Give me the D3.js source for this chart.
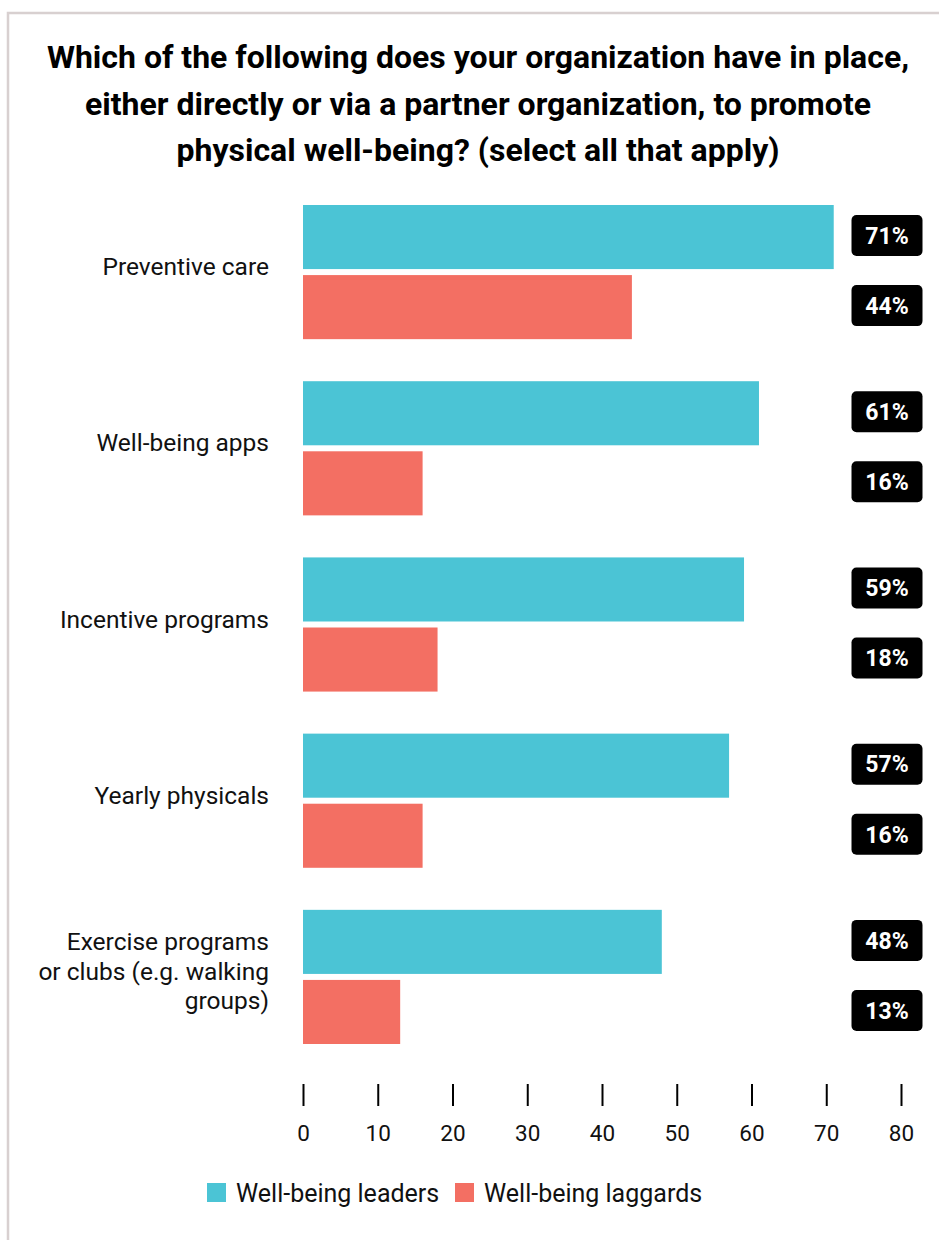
<!DOCTYPE html>
<html>
<head>
<meta charset="utf-8">
<script src="https://cdn.jsdelivr.net/npm/d3@7"></script>
<style>
  html, body { margin: 0; padding: 0; background: #fff; }
  svg { display: block; font-family: Roboto, "Noto Sans", sans-serif; }
</style>
</head>
<body>
<svg id="chart" width="939" height="1240"></svg>
<script>
// Survey answers: share of organizations (%) with each physical well-being measure
const categories = [
  ["Preventive care"],
  ["Well-being apps"],
  ["Incentive programs"],
  ["Yearly physicals"],
  ["Exercise programs", "or clubs (e.g. walking", "groups)"]
];
const seriesNames = ["Well-being leaders", "Well-being laggards"];
const leaders  = [71, 61, 59, 57, 48];
const laggards = [44, 16, 18, 16, 13];
const xTicks = [0, 10, 20, 30, 40, 50, 60, 70, 80];
const colors = ["#4bc4d5", "#f36f63"];

const titleLines = [
  "Which of the following does your organization have in place,",
  "either directly or via a partner organization, to promote",
  "physical well-being? (select all that apply)"
];

const svg = d3.select("#chart");

// Card frame (top and left edges)
svg.append("path")
  .attr("d", "M8,1240 V13 H939")
  .attr("fill", "none")
  .attr("stroke", "#d8d0d0")
  .attr("stroke-width", 2.5);

// Title
svg.append("text")
  .attr("text-anchor", "middle")
  .attr("font-weight", 700)
  .attr("font-size", 32)
  .attr("fill", "#000")
  .selectAll("tspan")
  .data(titleLines)
  .join("tspan")
  .attr("x", 478)
  .attr("y", (d, i) => 68 + i * 46.5)
  .text(d => d);

const keys = categories.map(c => c.join(" "));
const rows = keys.map((k, i) => ({ key: k, lines: categories[i], values: [leaders[i], laggards[i]] }));

const x = d3.scaleLinear().domain([0, 80]).range([303, 901]);
const y = d3.scaleBand().domain(keys).range([205, 1044]).paddingInner(42 / 176).paddingOuter(0);
const yInner = d3.scaleBand().domain(seriesNames).range([0, y.bandwidth()]).paddingInner(6 / 70);

const groups = svg.append("g").selectAll("g")
  .data(rows)
  .join("g")
  .attr("transform", d => `translate(0,${y(d.key)})`);

// Bars
groups.selectAll("rect.bar")
  .data(d => d.values.map((v, j) => ({ v, s: seriesNames[j], j })))
  .join("rect")
  .attr("class", "bar")
  .attr("x", x(0))
  .attr("y", d => yInner(d.s))
  .attr("width", d => x(d.v) - x(0))
  .attr("height", yInner.bandwidth())
  .attr("fill", d => colors[d.j]);

// Value badges
const badge = groups.selectAll("g.badge")
  .data(d => d.values.map((v, j) => ({ v, s: seriesNames[j], j })))
  .join("g")
  .attr("class", "badge")
  .attr("transform", d => `translate(887,${yInner(d.s) + yInner.bandwidth() / 2 - 1.5})`);

badge.append("rect")
  .attr("x", -35.5)
  .attr("y", -20.5)
  .attr("width", 71)
  .attr("height", 41)
  .attr("rx", 5)
  .attr("fill", "#000");

badge.append("text")
  .attr("text-anchor", "middle")
  .attr("dy", "0.36em")
  .attr("font-weight", 700)
  .attr("font-size", 23)
  .attr("fill", "#fff")
  .text(d => d.v + "%");

// Category labels
groups.append("text")
  .attr("text-anchor", "end")
  .attr("font-size", 24.5)
  .attr("fill", "#111")
  .each(function (d) {
    const t = d3.select(this);
    const n = d.lines.length;
    const lh = 29.5;
    const c = y.bandwidth() / 2 - 5.5;
    d.lines.forEach((ln, i) => {
      t.append("tspan")
        .attr("x", 269)
        .attr("y", c + (i - (n - 1) / 2) * lh)
        .attr("dy", "0.35em")
        .text(ln);
    });
  });

// X axis
const axis = svg.append("g")
  .attr("transform", "translate(0,1084)")
  .call(d3.axisBottom(x).tickValues(xTicks).tickSize(22).tickPadding(19).tickFormat(d3.format("d")));
axis.select(".domain").remove();
axis.selectAll(".tick line").attr("stroke", "#000").attr("stroke-width", 2);
axis.selectAll(".tick text")
  .attr("font-family", "Roboto, sans-serif")
  .attr("font-size", 22.5)
  .attr("fill", "#111");

// Legend
const legend = svg.append("g").attr("transform", "translate(207,1183)");
const legendX = [0, 248];
const li = legend.selectAll("g")
  .data(seriesNames)
  .join("g")
  .attr("transform", (d, i) => `translate(${legendX[i]},0)`);
li.append("rect")
  .attr("width", 19)
  .attr("height", 19)
  .attr("fill", (d, i) => colors[i]);
li.append("text")
  .attr("x", 29)
  .attr("y", 9.5)
  .attr("dy", "0.36em")
  .attr("font-size", 25)
  .attr("fill", "#111")
  .text(d => d);
</script>
</body>
</html>
